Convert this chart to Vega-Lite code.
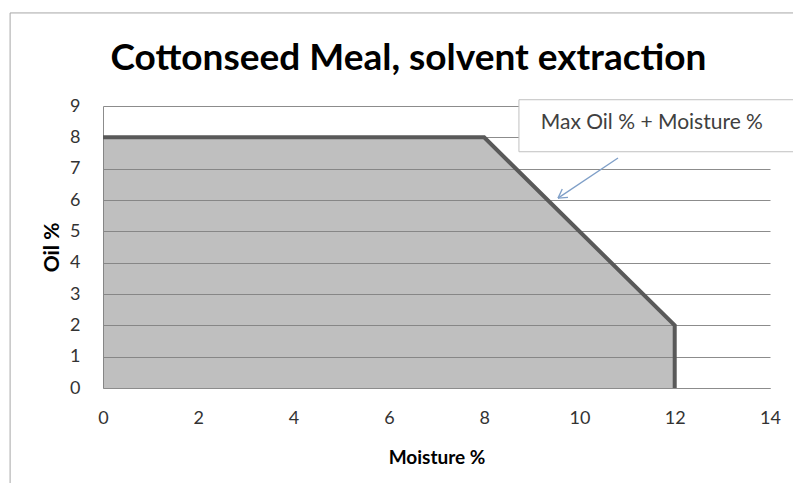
{
  "$schema": "https://vega.github.io/schema/vega-lite/v6.json",
  "width": 667,
  "height": 282,
  "autosize": {"type": "none"},
  "padding": {"left": 103, "top": 106, "right": 23, "bottom": 95},
  "background": "white",
  "title": {
    "text": "Cottonseed Meal, solvent extraction",
    "font": "Lato",
    "fontSize": 37,
    "fontWeight": "bold",
    "color": "#000000",
    "anchor": "middle",
    "frame": "group",
    "dx": -28,
    "dy": 88,
    "offset": 22
  },
  "datasets": {
    "limit": [
      {"moisture": 0, "oil": 8, "order": 1},
      {"moisture": 8, "oil": 8, "order": 2},
      {"moisture": 12, "oil": 2, "order": 3},
      {"moisture": 12, "oil": 0, "order": 4}
    ],
    "arrow": [
      {"m1": 10.81, "o1": 7.34, "m2": 9.55, "o2": 6.06},
      {"m1": 9.76, "o1": 6.085, "m2": 9.55, "o2": 6.06},
      {"m1": 9.64, "o1": 6.35, "m2": 9.55, "o2": 6.06}
    ],
    "note": [
      {"label": "Max Oil % + Moisture %", "m": 11.52, "o": 8.45}
    ]
  },
  "config": {
    "view": {"stroke": null},
    "font": "Lato",
    "axis": {
      "labelFont": "Lato",
      "labelFontSize": 18,
      "labelColor": "#333333",
      "labelFlush": false,
      "labelOverlap": false,
      "titleFont": "Lato",
      "titleFontSize": 19,
      "titleFontWeight": "bold",
      "titleColor": "#000000",
      "domainColor": "#8c8c8c",
      "gridColor": "#8c8c8c",
      "ticks": false
    }
  },
  "layer": [
    {
      "data": {"name": "limit"},
      "mark": {"type": "area", "fill": "#808080", "fillOpacity": 0.5},
      "encoding": {
        "x": {
          "field": "moisture",
          "type": "quantitative",
          "scale": {"domain": [0, 14], "nice": false},
          "axis": {
            "title": "Moisture %",
            "values": [0, 2, 4, 6, 8, 10, 12, 14],
            "tickCount": 20,
            "format": "d",
            "grid": false,
            "labelPadding": 21,
            "titlePadding": 21
          }
        },
        "y": {
          "field": "oil",
          "type": "quantitative",
          "stack": null,
          "scale": {"domain": [0, 9], "nice": false},
          "axis": {
            "title": "Oil %",
            "titleFontSize": 21,
            "values": [0, 1, 2, 3, 4, 5, 6, 7, 8, 9],
            "tickCount": 20,
            "format": "d",
            "grid": true,
            "labelPadding": 23,
            "titlePadding": 7
          }
        }
      }
    },
    {
      "data": {"name": "limit"},
      "mark": {"type": "line", "stroke": "#595959", "strokeWidth": 4, "strokeJoin": "miter", "strokeCap": "butt"},
      "encoding": {
        "x": {"field": "moisture", "type": "quantitative"},
        "y": {"field": "oil", "type": "quantitative"},
        "order": {"field": "order", "type": "quantitative"}
      }
    },
    {
      "data": {"values": [{}]},
      "mark": {"type": "rect", "fill": null, "stroke": "#a6a6a6", "strokeWidth": 1, "clip": false},
      "encoding": {
        "x": {"datum": -1.95, "type": "quantitative"},
        "x2": {"datum": 14.6},
        "y": {"datum": 11.97, "type": "quantitative"},
        "y2": {"datum": -4}
      }
    },
    {
      "data": {"values": [{}]},
      "mark": {"type": "rect", "fill": "white", "stroke": "#c0c0c0", "strokeWidth": 1, "clip": false},
      "encoding": {
        "x": {"datum": 8.73, "type": "quantitative"},
        "x2": {"datum": 14.55},
        "y": {"datum": 9.2, "type": "quantitative"},
        "y2": {"datum": 7.54}
      }
    },
    {
      "data": {"name": "note"},
      "mark": {"type": "text", "font": "Lato", "fontSize": 21, "color": "#404040", "align": "center", "baseline": "middle"},
      "encoding": {
        "x": {"field": "m", "type": "quantitative"},
        "y": {"field": "o", "type": "quantitative"},
        "text": {"field": "label"}
      }
    },
    {
      "data": {"name": "arrow"},
      "mark": {"type": "rule", "stroke": "#7f9fc8", "strokeWidth": 1.3},
      "encoding": {
        "x": {"field": "m1", "type": "quantitative"},
        "y": {"field": "o1", "type": "quantitative"},
        "x2": {"field": "m2"},
        "y2": {"field": "o2"}
      }
    }
  ]
}
